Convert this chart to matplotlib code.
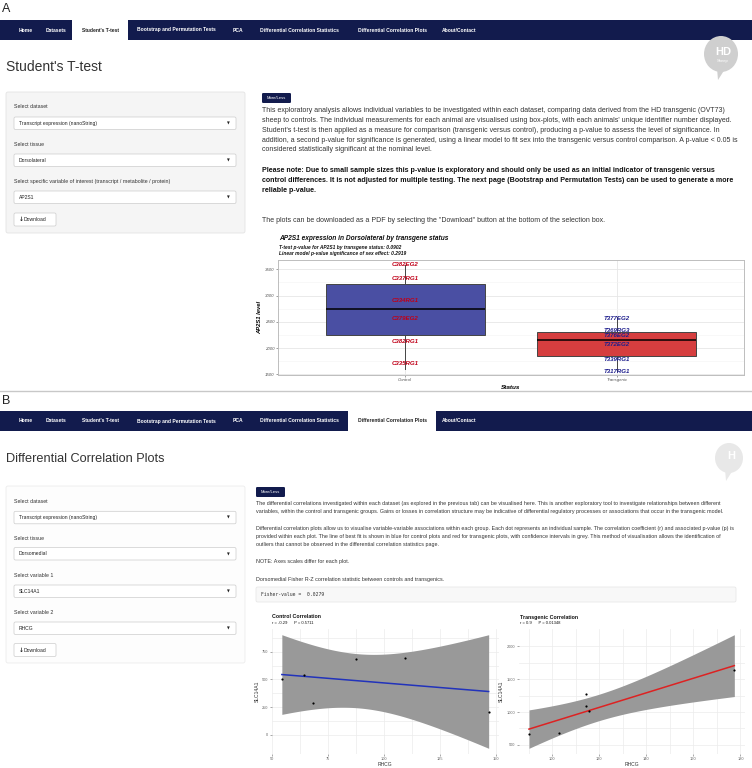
import numpy as np
import matplotlib.pyplot as plt
from matplotlib.patches import FancyBboxPatch, Rectangle, Ellipse, Polygon

plt.rcParams['font.family'] = ['Liberation Sans', 'DejaVu Sans']

W, H = 752, 768
NAVY = '#121b4d'
TXT = '#333333'

# ---- data -------------------------------------------------------------
nav_items = ['Home', 'Datasets', "Student's T-test", 'Bootstrap and Permutation Tests', 'PCA',
             'Differential Correlation Statistics', 'Differential Correlation Plots', 'About/Contact']

intro_a = [
    "This exploratory analysis allows individual variables to be investigated within each dataset, comparing data derived from the HD transgenic (OVT73)",
    "sheep to controls. The individual measurements for each animal are visualised using box-plots, with each animals' unique identifier number displayed.",
    "Student's t-test is then applied as a measure for comparison (transgenic versus control), producing a p-value to assess the level of significance. In",
    "addition, a second p-value for significance is generated, using a linear model to fit sex into the transgenic versus control comparison. A p-value < 0.05 is",
    "considered statistically significant at the nominal level.",
]
note_a = [
    "Please note: Due to small sample sizes this p-value is exploratory and should only be used as an initial indicator of transgenic versus",
    "control differences. It is not adjusted for multiple testing. The next page (Bootstrap and Permutation Tests) can be used to generate a more",
    "reliable p-value.",
]
intro_b1 = [
    "The differential correlations investigated within each dataset (as explored in the previous tab) can be visualised here. This is another exploratory tool to investigate relationships between different",
    "variables, within the control and transgenic groups. Gains or losses in correlation structure may be indicative of differential regulatory processes or associations that occur in the transgenic model.",
]
intro_b2 = [
    "Differential correlation plots allow us to visualise variable-variable associations within each group. Each dot represents an individual sample. The correlation coefficient (r) and associated p-value (p) is",
    "provided within each plot. The line of best fit is shown in blue for control plots and red for transgenic plots, with confidence intervals in grey. This method of visualisation allows the identification of",
    "outliers that cannot be observed in the differential correlation statistics page.",
]

# box plot (AP2S1, Dorsolateral)
status = ['Control', 'Transgenic']
box_q1 = [2243, 1850]
box_median = [2744, 2160]
box_q3 = [3226, 2300]
whisker_lo = [1600, 1565]
whisker_hi = [3580, 2590]
ctrl_ids = ['C382EG2', 'C337RG1', 'C334RG1', 'C379EG2', 'C382RG1', 'C335RG1']
ctrl_vals = [3582, 3328, 2915, 2566, 2121, 1710]
tg_ids = ['T377EG2', 'T369RG3', 'T376EG2', 'T372EG2', 'T339RG1', 'T317RG1']
tg_vals = [2566, 2325, 2248, 2071, 1778, 1563]

# correlation plots (SLC14A1 vs RHCG, Dorsomedial)
ctrl_rhcg = [54.5, 64.6, 68.6, 87.6, 109.6, 146.9]
ctrl_slc = [507, 536, 290, 686, 698, 208]
tg_rhcg = [90.1, 103.0, 114.3, 114.3, 115.7, 177.4]
tg_slc = [662, 687, 1275, 1089, 1015, 1643]
T_CRIT = 2.776  # t(0.975, df=4)

fig = plt.figure(figsize=(W / 100, H / 100), dpi=100)
bg = fig.add_axes([0, 0, 1, 1])
bg.set_xlim(0, W)
bg.set_ylim(H, 0)
bg.axis('off')


def px_axes(left, top, right, bottom):
    return fig.add_axes([left / W, 1 - bottom / H, (right - left) / W, (bottom - top) / H])


def rbox(x0, y0, x1, y1, fc, ec='none', lw=0.6, r=1.5, z=1):
    bg.add_patch(FancyBboxPatch((x0, y0), x1 - x0, y1 - y0,
                                boxstyle=f'round,pad=0,rounding_size={r}',
                                fc=fc, ec=ec, lw=lw, zorder=z))


def txt(x, y, s, size, **kw):
    kw.setdefault('color', TXT)
    kw.setdefault('va', 'center')
    bg.text(x, y, s, fontsize=size, **kw)


def navbar(y0, active):
    bg.add_patch(Rectangle((0, y0), W, 20, fc=NAVY, ec='none'))
    centers = [26, 56, 100, 176, 238, 299, 392, 459]
    tab_w = [0, 0, 56, 0, 0, 0, 88, 0]
    for i, (name, cx) in enumerate(zip(nav_items, centers)):
        col = 'white'
        if i == active:
            bg.add_patch(Rectangle((cx - tab_w[i] / 2, y0), tab_w[i], 20, fc='white', ec='none'))
            col = '#222222'
        txt(cx, y0 + 10, name, 3.6, ha='center', color=col, weight='bold')


def dropdown(y0, label, value, y_label):
    txt(14, y_label, label, 3.8)
    rbox(14, y0, 236, y0 + 12.5, 'white', '#cccccc', 0.5)
    txt(19, y0 + 6.3, value, 3.6, color='#222222')
    txt(228, y0 + 6.5, '\u25bc', 2.6, ha='center', color='#222222', family='DejaVu Sans')


def download_btn(y0):
    rbox(14, y0, 56, y0 + 13, 'white', '#cccccc', 0.5)
    txt(19, y0 + 6.5, '\u2193', 4.2, color='#222222', family='DejaVu Sans', weight='bold')
    txt(24, y0 + 6.5, 'Download', 3.6, color='#222222')


def more_less(x0, y0):
    rbox(x0, y0, x0 + 29, y0 + 10, NAVY, r=1.2)
    txt(x0 + 14.5, y0 + 5, 'More/Less', 3.0, ha='center', color='white')


def logo(cx, cy, w, h, col, label, sub):
    bg.add_patch(Ellipse((cx, cy), w, h, fc=col, ec='none'))
    bg.add_patch(Polygon([[cx - 4, cy + h / 2 - 4], [cx + 4, cy + h / 2 - 3], [cx - 3, cy + h / 2 + 8]],
                         fc=col, ec='none'))
    txt(cx + 2, cy - 2, label, 8, ha='center', color='white', weight='bold')
    if sub:
        txt(cx + 2, cy + 7, sub, 3, ha='center', color='white')


# ---- panel A --------------------------------------------------------
txt(2, 9, 'A', 9, color='#222222')
navbar(20, 2)
txt(6, 67, "Student's T-test", 10)
logo(721, 54, 34, 36, '#cfcfcf', 'HD', 'Sheep')

rbox(6, 92, 245, 233, '#f5f5f5', '#e3e3e3', 0.6, r=2)
dropdown(117, 'Select dataset', 'Transcript expression (nanoString)', 107)
dropdown(154, 'Select tissue', 'Dorsolateral', 144)
dropdown(191, 'Select specific variable of interest (transcript / metabolite / protein)', 'AP2S1', 181.5)
download_btn(213)

more_less(262, 93)
for i, line in enumerate(intro_a):
    txt(262, 111 + i * 9.7, line, 5.0)
for i, line in enumerate(note_a):
    txt(262, 171 + i * 9.7, line, 5.1, weight='bold', color='#111111')
txt(262, 221, 'The plots can be downloaded as a PDF by selecting the "Download" button at the bottom of the selection box.', 5.0)

txt(279, 239, 'AP2S1 expression in Dorsolateral by transgene status', 4.8, weight='bold', style='italic', color='#111111')
txt(279, 247, 'T-test p-value for AP2S1 by transgene status: 0.0902', 3.5, weight='bold', style='italic', color='#111111')
txt(279, 253.3, 'Linear model p-value significance of sex effect: 0.2919', 3.5, weight='bold', style='italic', color='#111111')

ax = px_axes(278, 260, 744, 375)
pos = np.arange(1, len(status) + 1)
stats = [dict(med=m, q1=a, q3=c, whislo=lo, whishi=hi, label=s)
         for s, a, m, c, lo, hi in zip(status, box_q1, box_median, box_q3, whisker_lo, whisker_hi)]
bp = ax.bxp(stats, positions=pos, widths=0.75, showfliers=False, showcaps=False, patch_artist=True,
            boxprops=dict(edgecolor='#444444', linewidth=0.7),
            whiskerprops=dict(color='#444444', linewidth=0.7),
            medianprops=dict(color='black', linewidth=1.1))
for patch, col in zip(bp['boxes'], ['#4a4fa3', '#d63e3f']):
    patch.set_facecolor(col)
for s, v in zip(ctrl_ids, ctrl_vals):
    ax.text(pos[0], v, s, fontsize=4.4, ha='center', va='center', color='#c00018',
            weight='bold', style='italic', zorder=5)
for s, v in zip(tg_ids, tg_vals):
    ax.text(pos[1], v, s, fontsize=4.4, ha='center', va='center', color='#1d1d8c',
            weight='bold', style='italic', zorder=5)
ax.set_xlim(0.4, 2.6)
ax.set_ylim(1487, 3677)
ax.set_yticks([1500, 2000, 2500, 3000, 3500])
ax.set_yticks([1750, 2250, 2750, 3250], minor=True)
ax.set_xticks(pos)
ax.set_xticklabels(status)
ax.grid(True, which='major', color='#e6e6e6', lw=0.6)
ax.grid(True, which='minor', axis='y', color='#f3f3f3', lw=0.4)
ax.set_axisbelow(True)
ax.tick_params(labelsize=3.2, length=1.5, width=0.4, colors='#555555', pad=1)
ax.tick_params(which='minor', length=0)
for lab in ax.get_xticklabels() + ax.get_yticklabels():
    lab.set_style('italic')
for sp in ax.spines.values():
    sp.set_color('#bdbdbd')
    sp.set_linewidth(0.7)
ax.set_ylabel('AP2S1 level', fontsize=4.2, weight='bold', style='italic', labelpad=2)
ax.set_xlabel('Status', fontsize=4.6, weight='bold', style='italic', labelpad=1.5)

bg.plot([0, W], [391, 391], color='#c8c8c8', lw=1)

# ---- panel B --------------------------------------------------------
txt(2, 401, 'B', 9, color='#222222')
navbar(411, 6)
txt(6, 459, 'Differential Correlation Plots', 9.2)
logo(729, 458, 28, 30, '#e8e8e8', 'H', None)

rbox(6, 486, 245, 663, '#fdfdfd', '#ececec', 0.6, r=2)
dropdown(511.3, 'Select dataset', 'Transcript expression (nanoString)', 501.7)
dropdown(547.5, 'Select tissue', 'Dorsomedial', 538.3)
dropdown(585, 'Select variable 1', 'SLC14A1', 575.7)
dropdown(622, 'Select variable 2', 'RHCG', 612.7)
download_btn(643.5)

more_less(256, 487)
for i, line in enumerate(intro_b1):
    txt(256, 503.8 + i * 8, line, 3.85)
for i, line in enumerate(intro_b2):
    txt(256, 528.3 + i * 8, line, 3.85)
txt(256, 561, 'NOTE: Axes scales differ for each plot.', 3.85)
txt(256, 579, 'Dorsomedial Fisher R-Z correlation statistic between controls and transgenics.', 3.85)
rbox(256, 587, 736, 602, '#f8f8f8', '#e5e5e5', 0.5, r=1.5)
txt(261, 594.5, 'Fisher-value =  0.0279', 3.4, family='DejaVu Sans Mono')


def corr_panel(axc, x, y, line_col):
    x = np.asarray(x, float)
    y = np.asarray(y, float)
    k, b = np.polyfit(x, y, 1)
    xs = np.linspace(x.min(), x.max(), 100)
    fit = k * xs + b
    n = len(x)
    s = np.sqrt(np.sum((y - (k * x + b)) ** 2) / (n - 2))
    se = s * np.sqrt(1 / n + (xs - x.mean()) ** 2 / np.sum((x - x.mean()) ** 2))
    lo, hi = fit - T_CRIT * se, fit + T_CRIT * se
    axc.fill_between(xs, lo, hi, color='#999999', lw=0, zorder=2)
    axc.plot(xs, fit, color=line_col, lw=1.1, zorder=3)
    axc.scatter(x, y, s=2.5, color='black', zorder=4, lw=0)
    xr = x.max() - x.min()
    yr = max(hi.max(), y.max()) - min(lo.min(), y.min())
    axc.set_xlim(x.min() - 0.05 * xr, x.max() + 0.05 * xr)
    axc.set_ylim(min(lo.min(), y.min()) - 0.05 * yr, max(hi.max(), y.max()) + 0.05 * yr)
    axc.grid(True, which='both', color='#ececec', lw=0.5, zorder=0)
    axc.set_axisbelow(True)
    for sp in axc.spines.values():
        sp.set_visible(False)
    axc.tick_params(labelsize=2.8, length=1.2, width=0.4, colors='#666666', pad=1)
    axc.tick_params(which='minor', length=0)
    axc.set_xlabel('RHCG', fontsize=3.6, color='#333333', labelpad=0.5)
    axc.set_ylabel('SLC14A1', fontsize=3.6, color='#333333', labelpad=2)


txt(272, 617, 'Control Correlation', 3.8, weight='bold', color='#111111')
txt(272, 623.5, 'r = -0.29      P = 0.5711', 3.0, color='#111111')
txt(520, 617, 'Transgenic Correlation', 3.8, weight='bold', color='#111111')
txt(520, 623.5, 'r = 0.9      P = 0.01348', 3.0, color='#111111')

ax1 = px_axes(271.5, 629, 499, 754)
corr_panel(ax1, ctrl_rhcg, ctrl_slc, '#2233bb')
ax1.set_xticks([50, 75, 100, 125, 150])
ax1.set_yticks([0, 250, 500, 750])
ax1.set_xticks([62.5, 87.5, 112.5, 137.5], minor=True)
ax1.set_yticks([125, 375, 625, 875], minor=True)

ax2 = px_axes(518.7, 629, 744.6, 754)
corr_panel(ax2, tg_rhcg, tg_slc, '#dd2222')
ax2.set_xticks([100, 120, 140, 160, 180])
ax2.set_yticks([500, 1000, 1500, 2000])
ax2.set_xticks([90, 110, 130, 150, 170], minor=True)
ax2.set_yticks([750, 1250, 1750], minor=True)

fig.savefig('out.png', dpi=100)
